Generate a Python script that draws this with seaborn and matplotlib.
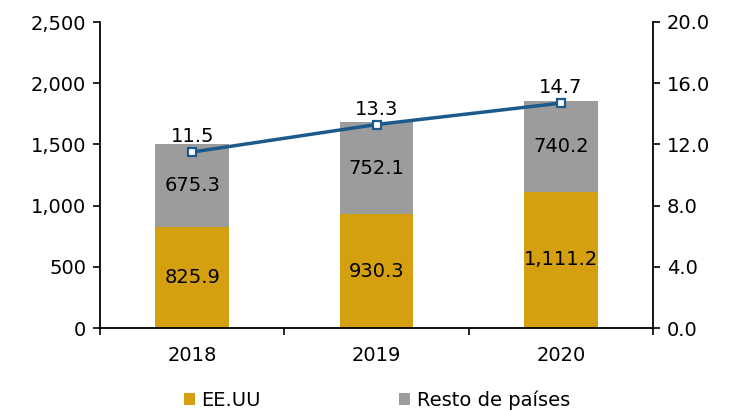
import matplotlib
matplotlib.use("Agg")
import matplotlib.pyplot as plt
import seaborn as sns
import numpy as np
from matplotlib.patches import Patch
from matplotlib.ticker import FuncFormatter, FixedLocator

years = ["2018", "2019", "2020"]
eeuu = [825.9, 930.3, 1111.2]
resto = [675.3, 752.1, 740.2]
line_vals = [11.5, 13.3, 14.7]
left_ticks = [0, 500, 1000, 1500, 2000, 2500]
right_ticks = [0, 4, 8, 12, 16, 20]

gold = "#D4A010"
grey = "#9C9C9C"
blue = "#1B5A8C"

sns.set_theme(style="white")
plt.rcParams["font.family"] = ["DejaVu Sans"]
plt.rcParams["text.color"] = "black"
plt.rcParams["xtick.color"] = "black"
plt.rcParams["ytick.color"] = "black"

fig = plt.figure(figsize=(7.4, 4.11), dpi=100)
ax = fig.add_axes([100/740, 1-328/411, 553/740, 306/411])

totals = [a + b for a, b in zip(eeuu, resto)]
sns.barplot(x=years, y=totals, color=grey, width=0.4, ax=ax, saturation=1, edgecolor="none")
sns.barplot(x=years, y=eeuu, color=gold, width=0.4, ax=ax, saturation=1, edgecolor="none")

fs = 14
for i, (a, b) in enumerate(zip(eeuu, resto)):
    ax.text(i, a/2, f"{a:,.1f}", ha="center", va="center", fontsize=fs, color="black")
    ax.text(i, a + b/2, f"{b:,.1f}", ha="center", va="center", fontsize=fs, color="black")

ax.set_ylim(0, 2500)
ax.set_xlim(-0.5, 2.5)
ax.yaxis.set_major_locator(FixedLocator(left_ticks))
ax.yaxis.set_major_formatter(FuncFormatter(lambda v, p: f"{v:,.0f}"))
ax.set_xlabel("")
ax.set_ylabel("")
ax.tick_params(axis="y", direction="out", length=5, width=1.2, colors="black", labelsize=fs, pad=5, left=True)
ax.set_xticks([0, 1, 2])
ax.set_xticklabels(years)
ax.tick_params(axis="x", which="major", length=0, labelsize=fs, pad=13, labelcolor="black")
ax.set_xticks([-0.5, 0.5, 1.5, 2.5], minor=True)
ax.tick_params(axis="x", which="minor", direction="out", length=5, width=1.2, color="black", bottom=True)
for s in ["top", "right"]:
    ax.spines[s].set_visible(False)
for s in ["left", "bottom"]:
    ax.spines[s].set_color("black")
    ax.spines[s].set_linewidth(1.3)

ax2 = ax.twinx()
sns.pointplot(x=years, y=line_vals, ax=ax2, color=blue, markers="s", markersize=6,
              linewidth=2.5, markerfacecolor="white", markeredgecolor=blue, markeredgewidth=1.6,
              errorbar=None)
ax2.set_ylim(0, 20)
ax2.set_xlim(-0.5, 2.5)
ax2.yaxis.set_major_locator(FixedLocator(right_ticks))
ax2.yaxis.set_major_formatter(FuncFormatter(lambda v, p: f"{v:.1f}"))
ax2.tick_params(axis="y", direction="out", length=5, width=1.2, colors="black", labelsize=fs, pad=5, right=True)
ax2.set_ylabel("")
for s in ["top", "left", "bottom"]:
    ax2.spines[s].set_visible(False)
ax2.spines["right"].set_color("black")
ax2.spines["right"].set_linewidth(1.3)
ax2.grid(False)
ax.grid(False)

for i, v in enumerate(line_vals):
    ax2.annotate(f"{v:.1f}", (i, v), xytext=(0, 11), textcoords="offset points",
                 ha="center", va="center", fontsize=fs, color="black")

handles = [Patch(facecolor=gold, edgecolor="none", label="EE.UU"),
           Patch(facecolor=grey, edgecolor="none", label="Resto de países")]
fig.legend(handles=handles, loc="center", bbox_to_anchor=(377/740, 1-400/411), ncol=2,
           frameon=False, fontsize=fs, handlelength=0.55, handleheight=0.55, handletextpad=0.35,
           columnspacing=7.1)

fig.savefig("out.png", dpi=100)
